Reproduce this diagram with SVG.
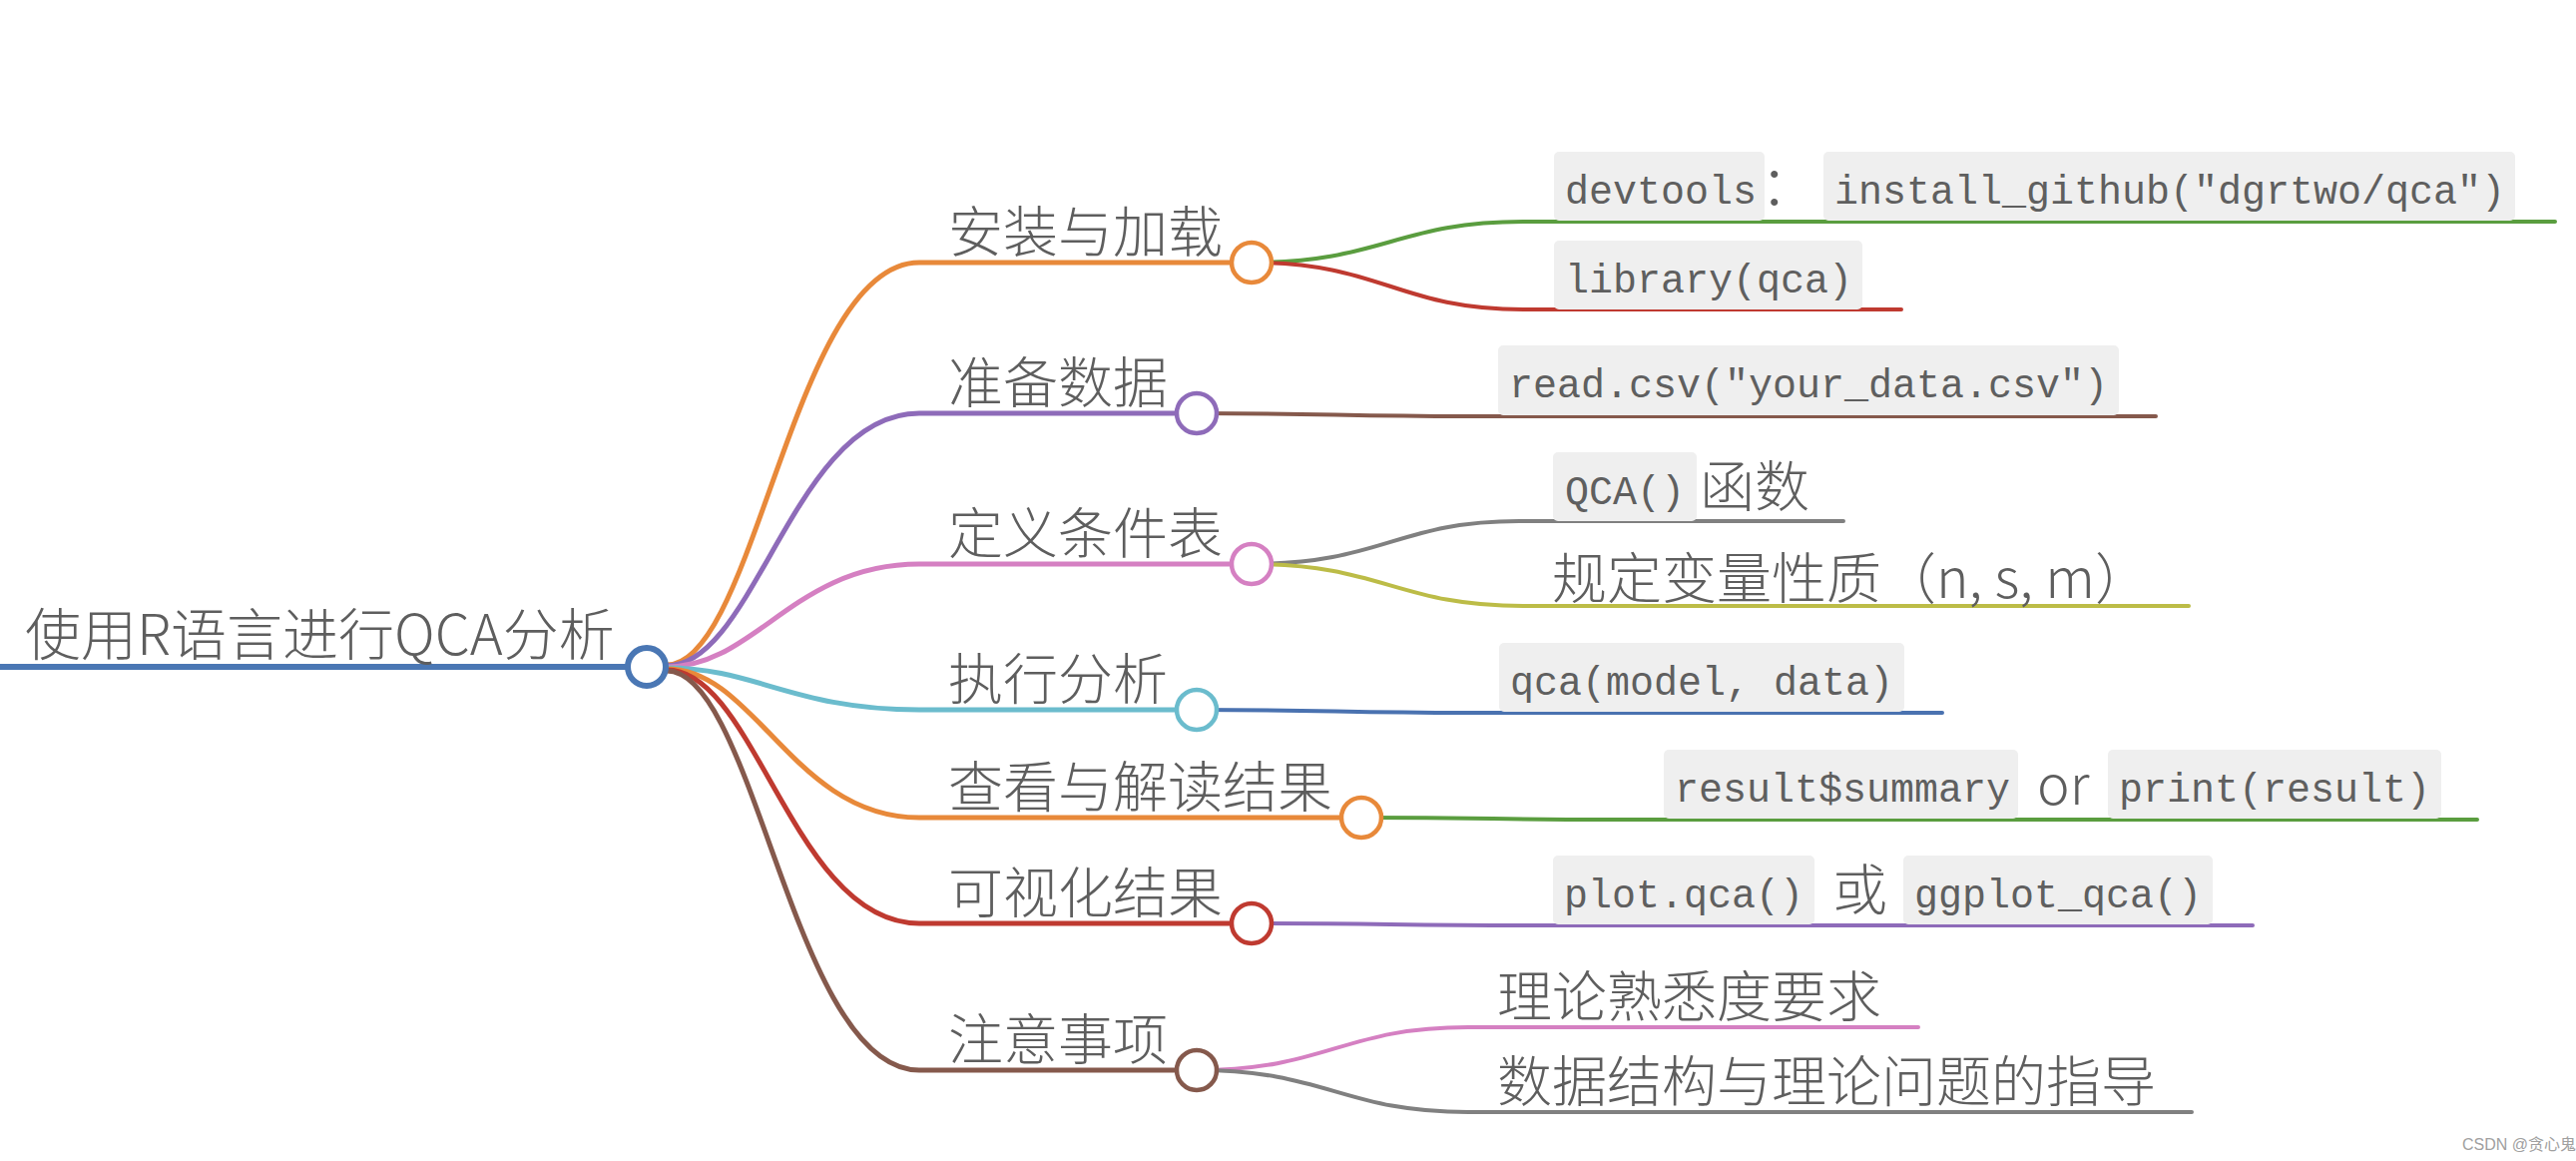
<svg xmlns="http://www.w3.org/2000/svg" width="2581" height="1163" viewBox="0 0 2581 1163">
<style>
.lbl{font-family:"Noto Sans CJK SC","Noto Sans",sans-serif;font-weight:300;font-size:55px;fill:#5e5e5e}
.root{font-size:56px}
.mono{font-family:"Liberation Mono","DejaVu Sans Mono",monospace;font-size:40px;fill:#5f5f5f}
.box{fill:#efefef}
.c{fill:none;stroke-width:4;stroke-linecap:round}
.c1{fill:none;stroke-width:5}
.nd{fill:#fff;stroke-width:4.5}
.wm{font-family:"Liberation Sans","Noto Sans CJK SC",sans-serif;font-size:16px;fill:#a0a0a0}
</style>
<rect width="2581" height="1163" fill="#fff"/>
<g id="connectors">
  <path class="c1" stroke="#e8893a" d="M668 666 C757 666 795 263 921 263 L1254 263"/>
  <path class="c1" stroke="#8e6bb9" d="M668 667 C757 667 795 414 921 414 L1199 414"/>
  <path class="c1" stroke="#d580c2" d="M668 668 C757 668 795 565 921 565 L1254 565"/>
  <path class="c1" stroke="#6bbccd" d="M668 669 C757 669 795 711 921 711 L1199 711"/>
  <path class="c1" stroke="#e8893a" d="M668 670 C757 670 795 819 921 819 L1364 819"/>
  <path class="c1" stroke="#bf3a30" d="M668 671 C757 671 795 925 921 925 L1254 925"/>
  <path class="c1" stroke="#85594c" d="M668 672 C757 672 795 1072 921 1072 L1199 1072"/>
  <path class="c" stroke="#5a9d3f" d="M1254 263 C1385 263 1400 222 1527 222 L2560 222"/>
  <path class="c" stroke="#bf3a30" d="M1254 263 C1385 263 1400 310 1527 310 L1905 310"/>
  <path class="c" stroke="#85594c" d="M1199 414 C1330 414 1345 417 1470 417 L2160 417"/>
  <path class="c" stroke="#808080" d="M1254 565 C1385 565 1400 522 1522 522 L1847 522"/>
  <path class="c" stroke="#bcbc47" d="M1254 565 C1385 565 1400 607 1526 607 L2193 607"/>
  <path class="c" stroke="#4a72b0" d="M1199 711 C1330 711 1345 714 1470 714 L1946 714"/>
  <path class="c" stroke="#5a9d3f" d="M1364 819 C1490 819 1500 821 1614 821 L2482 821"/>
  <path class="c" stroke="#8e6bb9" d="M1254 925 C1385 925 1400 927 1526 927 L2257 927"/>
  <path class="c" stroke="#d580c2" d="M1199 1072 C1330 1072 1345 1029 1471 1029 L1922 1029"/>
  <path class="c" stroke="#808080" d="M1199 1072 C1330 1072 1345 1114 1471 1114 L2196 1114"/>
</g>
<g id="root">
  <line x1="0" y1="668" x2="630" y2="668" stroke="#4a77b4" stroke-width="6"/>
  <text class="lbl root" x="25" y="656">使用R语言进行QCA分析</text>
  <circle cx="648" cy="668" r="19" fill="#fff" stroke="#4a77b4" stroke-width="6"/>
</g>
<g id="n1">
  <text class="lbl" x="950" y="252">安装与加载</text>
  <circle class="nd" cx="1254" cy="263" r="20" stroke="#e8893a"/>
</g>
<g id="n2">
  <text class="lbl" x="950" y="403">准备数据</text>
  <circle class="nd" cx="1199" cy="414" r="20" stroke="#8e6bb9"/>
</g>
<g id="n3">
  <text class="lbl" x="950" y="554">定义条件表</text>
  <circle class="nd" cx="1254" cy="565" r="20" stroke="#d580c2"/>
</g>
<g id="n4">
  <text class="lbl" x="950" y="700">执行分析</text>
  <circle class="nd" cx="1199" cy="711" r="20" stroke="#6bbccd"/>
</g>
<g id="n5">
  <text class="lbl" x="950" y="808">查看与解读结果</text>
  <circle class="nd" cx="1364" cy="819" r="20" stroke="#e8893a"/>
</g>
<g id="n6">
  <text class="lbl" x="950" y="914">可视化结果</text>
  <circle class="nd" cx="1254" cy="925" r="20" stroke="#bf3a30"/>
</g>
<g id="n7">
  <text class="lbl" x="950" y="1061">注意事项</text>
  <circle class="nd" cx="1199" cy="1072" r="20" stroke="#85594c"/>
</g>
<g id="n1a">
  <rect class="box" x="1557" y="152" width="211" height="69" rx="5"/>
  <text class="mono" x="1568" y="204">devtools</text>
  <text class="lbl" x="1764" y="205">：</text>
  <rect class="box" x="1827" y="152" width="693" height="69" rx="5"/>
  <text class="mono" x="1838" y="204">install_github("dgrtwo/qca")</text>
</g>
<g id="n1b">
  <rect class="box" x="1557" y="241" width="309" height="69" rx="5"/>
  <text class="mono" x="1568" y="293">library(qca)</text>
</g>
<g id="n2a">
  <rect class="box" x="1501" y="346" width="622" height="70" rx="5"/>
  <text class="mono" x="1512" y="398">read.csv("your_data.csv")</text>
</g>
<g id="n3a">
  <rect class="box" x="1556" y="453" width="144" height="69" rx="5"/>
  <text class="mono" x="1568" y="505">QCA()</text>
  <text class="lbl" x="1703" y="507">函数</text>
</g>
<g id="n3b">
  <text class="lbl" x="1555" y="599">规定变量性质（n, s, m）</text>
</g>
<g id="n4a">
  <rect class="box" x="1502" y="644" width="406" height="69" rx="5"/>
  <text class="mono" x="1513" y="696">qca(model, data)</text>
</g>
<g id="n5a">
  <rect class="box" x="1667" y="751" width="355" height="69" rx="5"/>
  <text class="mono" x="1678" y="803">result$summary</text>
  <text class="lbl" x="2041" y="806">or</text>
  <rect class="box" x="2112" y="751" width="334" height="69" rx="5"/>
  <text class="mono" x="2123" y="803">print(result)</text>
</g>
<g id="n6a">
  <rect class="box" x="1556" y="857" width="262" height="69" rx="5"/>
  <text class="mono" x="1567" y="909">plot.qca()</text>
  <text class="lbl" x="1836" y="911">或</text>
  <rect class="box" x="1907" y="857" width="310" height="69" rx="5"/>
  <text class="mono" x="1918" y="909">ggplot_qca()</text>
</g>
<g id="n7a">
  <text class="lbl" x="1500" y="1018">理论熟悉度要求</text>
</g>
<g id="n7b">
  <text class="lbl" x="1500" y="1103">数据结构与理论问题的指导</text>
</g>
<text class="wm" x="2467" y="1152">CSDN @贪心鬼</text>
</svg>
